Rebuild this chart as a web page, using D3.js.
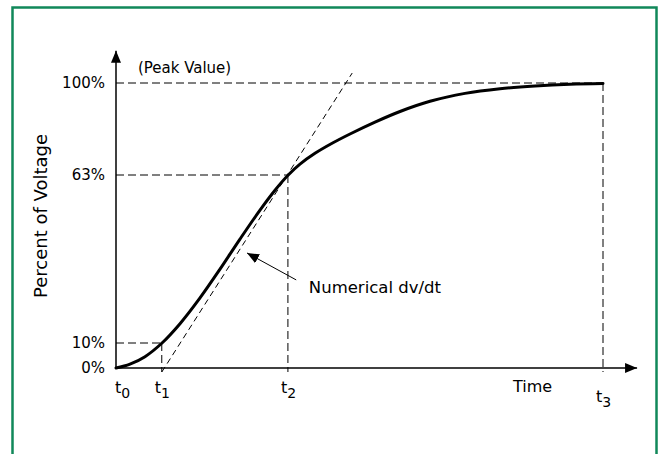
<!DOCTYPE html>
<html>
<head>
<meta charset="utf-8">
<script src="https://cdn.jsdelivr.net/npm/d3@7"></script>
<style>
  body { margin: 0; background: #fff; }
  text { font-family: "DejaVu Sans", sans-serif; fill: #000; }
</style>
</head>
<body>
<div id="chart"></div>
<script>
// Voltage rise curve (time in arbitrary units, value in percent)
const curveTime  = [0, 2.87, 5.95, 9.45, 13.14, 17.25, 21.36, 25.46, 29.57, 32.65, 35.32, 37.78, 40.86, 44.56, 48.05, 53.18, 58.32, 64.48, 71.66, 78.85, 86.04, 93.22, 100];
const curveValue = [0, 1.54, 4.54, 10, 16.09, 24.23, 33.31, 42.78, 51.93, 58.2, 62.92, 67.36, 71.71, 75.95, 79.49, 84.27, 88.54, 92.64, 95.82, 97.71, 98.83, 99.52, 99.8];

// y tick levels and the time markers
const levels = [0, 10, 63, 100];
const markTimes = [0, 9.4, 35.3, 100];
const markSubs = ["0", "1", "2", "3"];

// dashed tangent through t1 and the 63% point
const tangentTime = [9.4, 48.5];
const tangentValue = [-1.6, 104];

const width = 660, height = 454;

const x = d3.scaleLinear().domain([0, 100]).range([116, 603]);
// schematic (non-linear) percent axis
const y = d3.scaleLinear().domain(levels).range([368, 343, 175, 83]);

const svg = d3.select("#chart").append("svg")
    .attr("width", width)
    .attr("height", height);

// green frame
svg.append("rect")
    .attr("x", 12.5).attr("y", 7.5)
    .attr("width", 644).attr("height", 470)
    .attr("fill", "none")
    .attr("stroke", "#11885a")
    .attr("stroke-width", 2.5);

const defs = svg.append("defs");
defs.append("marker")
    .attr("id", "head")
    .attr("viewBox", "0 0 12 10")
    .attr("refX", 12).attr("refY", 5)
    .attr("markerWidth", 12).attr("markerHeight", 10)
    .attr("markerUnits", "userSpaceOnUse")
    .attr("orient", "auto")
    .append("path")
    .attr("d", "M0,0L12,5L0,10Z")
    .attr("fill", "#000");

// dashed guides
const guides = svg.append("g")
    .attr("fill", "none")
    .attr("stroke", "#000")
    .attr("stroke-width", 1)
    .attr("stroke-dasharray", "8,4");

const guideMarks = markTimes.slice(1).map((t, i) => ({ t: t, v: levels[i + 1] }));

guides.selectAll(".h")
    .data(guideMarks)
    .enter().append("line")
    .attr("x1", x(0)).attr("x2", d => x(d.t))
    .attr("y1", d => y(d.v)).attr("y2", d => y(d.v));

guides.selectAll(".v")
    .data(guideMarks)
    .enter().append("line")
    .attr("x1", d => x(d.t)).attr("x2", d => x(d.t))
    .attr("y1", d => y(d.v)).attr("y2", y(tangentValue[0]));

// tangent
svg.append("line")
    .attr("x1", x(tangentTime[0])).attr("y1", y(tangentValue[0]))
    .attr("x2", x(tangentTime[1])).attr("y2", y(tangentValue[1]))
    .attr("stroke", "#000")
    .attr("stroke-width", 1)
    .attr("stroke-dasharray", "6,4");

// axes with arrow heads
svg.append("line")
    .attr("x1", x(0)).attr("y1", y(0))
    .attr("x2", x(0)).attr("y2", y(113))
    .attr("stroke", "#000").attr("stroke-width", 1.5)
    .attr("marker-end", "url(#head)");

svg.append("line")
    .attr("x1", x(0)).attr("y1", y(0))
    .attr("x2", x(107)).attr("y2", y(0))
    .attr("stroke", "#000").attr("stroke-width", 1.5)
    .attr("marker-end", "url(#head)");

const yAxis = svg.append("g")
    .attr("transform", "translate(" + x(0) + ",0)")
    .call(d3.axisLeft(y).tickValues(levels).tickSize(0).tickPadding(11)
        .tickFormat(d => d + "%"));
yAxis.select(".domain").remove();
yAxis.selectAll("text")
    .style("font-family", "DejaVu Sans")
    .style("font-size", "15px")
    .attr("fill", "#000");

// curve
const pts = curveTime.map((t, i) => [t, curveValue[i]]);
svg.append("path")
    .datum(pts)
    .attr("fill", "none")
    .attr("stroke", "#000")
    .attr("stroke-width", 3)
    .attr("stroke-linecap", "round")
    .attr("d", d3.line()
        .x(d => x(d[0]))
        .y(d => y(d[1]))
        .curve(d3.curveCatmullRom));

// time marker labels
const tl = svg.selectAll(".tlabel")
    .data(markTimes)
    .enter().append("text")
    .attr("class", "tlabel")
    .attr("x", (d, i) => i === 0 ? x(d) - 1 : x(d) - 7)
    .attr("y", (d, i) => i === 3 ? 402 : 393)
    .style("font-size", "16px");
tl.append("tspan").text("t");
tl.append("tspan")
    .attr("dy", 5)
    .style("font-size", "14px")
    .text((d, i) => markSubs[i]);

svg.append("text")
    .attr("x", 513).attr("y", 392)
    .style("font-size", "16px")
    .text("Time");

svg.append("text")
    .attr("transform", "translate(47,216) rotate(-90)")
    .attr("text-anchor", "middle")
    .style("font-size", "18px")
    .text("Percent of Voltage");

svg.append("text")
    .attr("x", x(4.5)).attr("y", y(104))
    .style("font-size", "15px")
    .text("(Peak Value)");

// annotation
svg.append("line")
    .attr("x1", x(37.0)).attr("y1", y(29.9))
    .attr("x2", x(26.9)).attr("y2", y(38.4))
    .attr("stroke", "#000").attr("stroke-width", 1)
    .attr("marker-end", "url(#head)");

svg.append("text")
    .attr("x", x(39.6)).attr("y", y(25.8))
    .style("font-size", "16.5px")
    .text("Numerical dv/dt");
</script>
</body>
</html>
